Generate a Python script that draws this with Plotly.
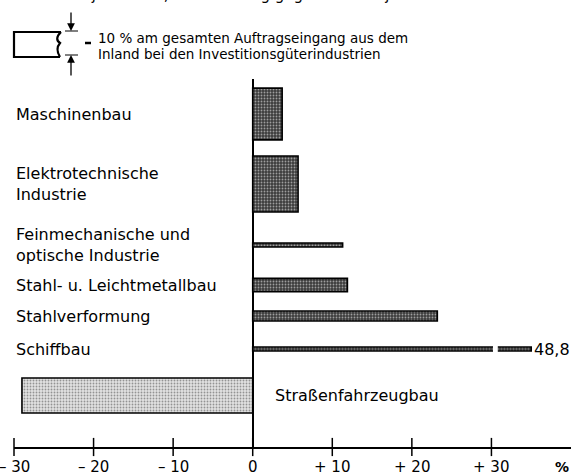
import plotly.graph_objects as go

# data
categories = [
    "Maschinenbau",
    "Elektrotechnische<br>Industrie",
    "Feinmechanische und<br>optische Industrie",
    "Stahl- u. Leichtmetallbau",
    "Stahlverformung",
    "Schiffbau",
    "Straßenfahrzeugbau",
]
change_pct = [3.7, 5.7, 11.3, 11.9, 23.2, 48.8, -29.0]  # Veränderung gegenüber Vorjahr
share_pct = [20.7, 22.4, 1.6, 5.3, 4.0, 1.6, 14.0]  # Anteil am Auftragseingang -> bar thickness
tick_vals = [-30, -20, -10, 0, 10, 20, 30]
tick_text = ["– 30", "– 20", "– 10", "0", "+ 10", "+ 20", "+ 30"]
legend_share = 10

title_text = "im 2. Halbjahr 1973, Veränderung gegenüber Vorjahr in %"
legend_text = [
    "10 % am gesamten Auftragseingang aus dem",
    "Inland bei den Investitionsgüterindustrien",
]

# layout
W_FIG, H_FIG = 573, 476
M_L, M_R, M_T, M_B = 14, 2, 79, 29
PLOT_W = W_FIG - M_L - M_R
PLOT_H = H_FIG - M_T - M_B
PX_PER_UNIT = 2.5  # vertical pixels per % of share
Y_MAX = PLOT_H / PX_PER_UNIT
row_pos = [133.2, 105.2, 80.8, 64.8, 52.4, 39.2, 20.6]  # row centres, share units above the axis
BAR_CAP = 35  # longer bars are cut (scale break)
BREAK_AT = (30.2, 30.8)
FONT = "DejaVu Sans"


def px_x(px):
    return (px - M_L) / PLOT_W


def px_y(py):
    return (H_FIG - M_B - py) / PLOT_H


def de_num(v):
    return f"{v:.1f}".replace(".", ",")


shown = [min(v, BAR_CAP) for v in change_pct]
dark = [v > 0 for v in change_pct]

fig = go.Figure()
fig.add_trace(
    go.Bar(
        x=shown,
        y=row_pos,
        width=share_pct,
        orientation="h",
        marker=dict(
            color=["#3c3c3c" if d else "#e2e2e2" for d in dark],
            line=dict(color="black", width=1.6),
            pattern=dict(
                shape=".",
                bgcolor=["#3c3c3c" if d else "#e6e6e6" for d in dark],
                fgcolor=["#a8a8a8" if d else "#8a8a8a" for d in dark],
                size=3,
                solidity=0.3,
            ),
        ),
        hoverinfo="skip",
    )
)

# crossing tick marks on the x axis
fig.add_trace(
    go.Scatter(
        x=tick_vals,
        y=[0] * len(tick_vals),
        mode="markers",
        marker=dict(symbol="line-ns", size=13, line=dict(color="black", width=1.5)),
        cliponaxis=False,
        hoverinfo="skip",
    )
)

annotations = []
shapes = []
for cat, val, y in zip(categories, change_pct, row_pos):
    if val >= 0:
        annotations.append(
            dict(x=0, xref="paper", y=y, yref="y", text=cat, xanchor="left",
                 yanchor="middle", showarrow=False, align="left",
                 font=dict(size=16))
        )
    else:
        annotations.append(
            dict(x=0, xref="x", y=y, yref="y", text=cat, xanchor="left",
                 yanchor="middle", showarrow=False, xshift=20,
                 font=dict(size=16))
        )
    if val > BAR_CAP:
        annotations.append(
            dict(x=BAR_CAP, y=y, text=de_num(val), xanchor="left", yanchor="middle",
                 showarrow=False, xshift=1, font=dict(size=16))
        )

# scale break on the cut bar
for val, y, w in zip(change_pct, row_pos, share_pct):
    if val > BAR_CAP:
        shapes.append(
            dict(type="rect", xref="x", yref="y", x0=BREAK_AT[0], x1=BREAK_AT[1],
                 y0=y - w, y1=y + w, fillcolor="white", line=dict(width=0))
        )

# tick labels (as annotations so the outermost one is not dropped at the edge)
for v, t in zip(tick_vals, tick_text):
    annotations.append(
        dict(x=v, xref="x", y=px_y(467), yref="paper", text=t, xanchor="center",
             yanchor="middle", showarrow=False, font=dict(size=15))
    )
annotations.append(
    dict(x=38.9, xref="x", y=px_y(467), yref="paper", text="<b>%</b>",
         xanchor="center", yanchor="middle", showarrow=False, font=dict(size=14))
)

# title (cut by the top edge in the original)
annotations.append(
    dict(x=px_x(13), xref="paper", y=px_y(-5), yref="paper", text=title_text,
         xanchor="left", yanchor="middle", showarrow=False, font=dict(size=15))
)

# legend bracket: box of height = legend_share
leg_h = legend_share * PX_PER_UNIT
top, bot = 32, 32 + leg_h
path = (
    f"M {px_x(61)},{px_y(top)} L {px_x(14)},{px_y(top)} L {px_x(14)},{px_y(bot)} "
    f"L {px_x(60)},{px_y(bot)} "
    f"M {px_x(61)},{px_y(top)} Q {px_x(54)},{px_y(top + 7)} {px_x(60)},{px_y(top + 11)} "
    f"Q {px_x(55)},{px_y(top + 17)} {px_x(60)},{px_y(bot)}"
)
shapes.append(dict(type="path", xref="paper", yref="paper", path=path,
                   line=dict(color="black", width=2.2)))
for yy in (top - 1, bot - 2):
    shapes.append(dict(type="line", xref="paper", yref="paper", x0=px_x(65), x1=px_x(78),
                       y0=px_y(yy), y1=px_y(yy), line=dict(color="black", width=1)))
shapes.append(dict(type="line", xref="paper", yref="paper", x0=px_x(85), x1=px_x(91),
                   y0=px_y(43), y1=px_y(43), line=dict(color="black", width=2.5)))
annotations.append(
    dict(x=px_x(71), xref="paper", y=px_y(top - 1), yref="paper", text="",
         showarrow=True, arrowhead=2, arrowsize=1.2, arrowwidth=1.3,
         ax=0, ay=-20, arrowcolor="black")
)
annotations.append(
    dict(x=px_x(71), xref="paper", y=px_y(bot - 2), yref="paper", text="",
         showarrow=True, arrowhead=2, arrowsize=1.2, arrowwidth=1.3,
         ax=0, ay=22, arrowcolor="black")
)
for i, line in enumerate(legend_text):
    annotations.append(
        dict(x=px_x(96), xref="paper", y=px_y(38 + 16 * i), yref="paper", text=line,
             xanchor="left", yanchor="middle", showarrow=False, font=dict(size=13.5))
    )

fig.update_layout(
    width=W_FIG,
    height=H_FIG,
    margin=dict(l=M_L, r=M_R, t=M_T, b=M_B),
    paper_bgcolor="white",
    plot_bgcolor="white",
    showlegend=False,
    font=dict(family=FONT, color="black"),
    xaxis=dict(
        range=[-30, 40],
        showticklabels=False,
        ticks="",
        showgrid=False,
        showline=True,
        linecolor="black",
        linewidth=1.5,
        zeroline=True,
        zerolinecolor="black",
        zerolinewidth=1.5,
        automargin=False,
    ),
    yaxis=dict(range=[0, Y_MAX], visible=False, automargin=False),
    annotations=annotations,
    shapes=shapes,
)

# the page has a default body margin; drop it so the figure fills the window
fig.write_html(
    "out.html",
    config={"displayModeBar": False},
    post_script="document.body.style.margin = '0';",
)
